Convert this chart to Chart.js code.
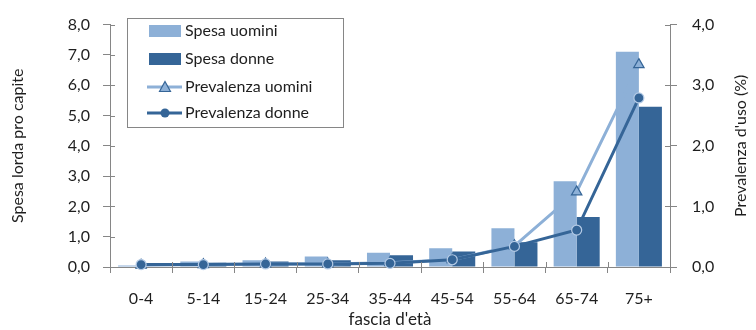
<!DOCTYPE html>
<html>
<head>
<meta charset="utf-8">
<script src="https://cdn.jsdelivr.net/npm/chart.js@4"></script>
<style>
  html, body { margin: 0; padding: 0; background: #fff; }
  #wrap { width: 756px; height: 330px; }
</style>
</head>
<body>
<div id="wrap"><canvas id="myChart" width="756" height="330"></canvas></div>
<script>
var categories = ['0-4', '5-14', '15-24', '25-34', '35-44', '45-54', '55-64', '65-74', '75+'];
var spesaUomini = [0.05, 0.18, 0.22, 0.35, 0.47, 0.62, 1.28, 2.83, 7.10];
var spesaDonne = [0.02, 0.14, 0.18, 0.22, 0.39, 0.51, 0.82, 1.65, 5.29];
var prevUomini = [0.03, 0.04, 0.05, 0.05, 0.07, 0.12, 0.35, 1.24, 3.34];
var prevDonne = [0.04, 0.04, 0.05, 0.05, 0.06, 0.12, 0.34, 0.61, 2.79];
var leftTicks = [0, 1, 2, 3, 4, 5, 6, 7, 8];
var rightTicks = [0, 1, 2, 3, 4];

var light = '#8DB0D7';
var dark = '#356597';
var axisGrey = '#868686';
var textCol = '#1e1e1e';
var fontFam = 'Lato, "Liberation Sans", sans-serif';

function fmt(v) { return Number(v).toFixed(1).replace('.', ','); }

// inner half of the tick marks (Excel style ticks cross the axis)
var crossTicks = {
    id: 'crossTicks',
    afterDraw: function(chart) {
        var c = chart.ctx, a = chart.chartArea;
        c.save();
        c.strokeStyle = axisGrey;
        c.lineWidth = 1;
        c.beginPath();
        var sy = chart.scales.y, sy1 = chart.scales.y1;
        sy.ticks.forEach(function(t) {
            var p = Math.round(sy.getPixelForValue(t.value)) + 0.5;
            c.moveTo(a.left, p); c.lineTo(a.left + 5, p);
        });
        sy1.ticks.forEach(function(t) {
            var p = Math.round(sy1.getPixelForValue(t.value)) + 0.5;
            c.moveTo(a.right, p); c.lineTo(a.right - 5, p);
        });
        var w = (a.right - a.left) / categories.length;
        for (var i = 1; i < categories.length; i++) {
            var x = Math.round(a.left + i * w) + 0.5;
            c.moveTo(x, a.bottom); c.lineTo(x, a.bottom - 5);
        }
        c.stroke();

        // right axis title, reading bottom to top
        c.fillStyle = textCol;
        c.font = '16px ' + fontFam;
        c.textAlign = 'center';
        c.textBaseline = 'middle';
        c.translate(741, (a.top + a.bottom) / 2);
        c.rotate(-Math.PI / 2);
        c.fillText("Prevalenza d'uso (%)", 0, 0);
        c.restore();
    }
};

// legend box drawn inside the plot, like the original
var boxLegend = {
    id: 'boxLegend',
    afterDraw: function(chart) {
        var c = chart.ctx;
        c.save();
        c.fillStyle = '#fff';
        c.fillRect(127.5, 18.5, 216, 109);
        c.strokeStyle = axisGrey;
        c.lineWidth = 1;
        c.strokeRect(127.5, 18.5, 216, 109);

        c.fillStyle = light;
        c.fillRect(149, 25, 32, 12);
        c.fillStyle = dark;
        c.fillRect(149, 53, 32, 12);

        // men line + triangle
        c.strokeStyle = light;
        c.lineWidth = 3;
        c.beginPath(); c.moveTo(147, 87); c.lineTo(182, 87); c.stroke();
        c.fillStyle = light;
        c.strokeStyle = dark;
        c.lineWidth = 1.2;
        c.beginPath(); c.moveTo(165, 81.5); c.lineTo(170.5, 91.5); c.lineTo(159.5, 91.5); c.closePath();
        c.fill(); c.stroke();

        // women line + circle
        c.strokeStyle = dark;
        c.lineWidth = 3;
        c.beginPath(); c.moveTo(147, 113); c.lineTo(182, 113); c.stroke();
        c.fillStyle = dark;
        c.beginPath(); c.arc(165, 113, 4.5, 0, Math.PI * 2); c.fill();

        c.fillStyle = textCol;
        c.font = '16px ' + fontFam;
        c.textBaseline = 'middle';
        c.textAlign = 'left';
        var labels = chart.data.datasets.map(function(d) { return d.label; });
        var ys = [31, 59, 87, 113];
        for (var i = 0; i < labels.length; i++) c.fillText(labels[i], 185, ys[i]);
        c.restore();
    }
};

var ctx = document.getElementById('myChart').getContext('2d');
var chart = new Chart(ctx, {
    type: 'bar',
    data: {
        labels: categories,
        datasets: [{
            label: 'Spesa uomini',
            data: spesaUomini,
            backgroundColor: light,
            yAxisID: 'y',
            order: 3
        }, {
            label: 'Spesa donne',
            data: spesaDonne,
            backgroundColor: dark,
            yAxisID: 'y',
            order: 3
        }, {
            type: 'line',
            label: 'Prevalenza uomini',
            data: prevUomini,
            borderColor: light,
            borderWidth: 3,
            pointStyle: 'triangle',
            pointRadius: 6,
            pointBackgroundColor: light,
            pointBorderColor: dark,
            pointBorderWidth: 1.2,
            yAxisID: 'y1',
            clip: false,
            order: 2
        }, {
            type: 'line',
            label: 'Prevalenza donne',
            data: prevDonne,
            borderColor: dark,
            borderWidth: 3,
            pointStyle: 'circle',
            pointRadius: 5,
            pointBackgroundColor: dark,
            pointBorderColor: '#B5CBE6',
            pointBorderWidth: 1.2,
            yAxisID: 'y1',
            clip: false,
            order: 1
        }]
    },
    options: {
        responsive: false,
        animation: false,
        datasets: { bar: { categoryPercentage: 0.74, barPercentage: 1.0 } },
        layout: { padding: { top: 19, left: 0, right: 0, bottom: 0 } },
        plugins: { legend: { display: false }, tooltip: { enabled: false } },
        scales: {
            x: {
                afterFit: function(s) { s.height = 63; },
                grid: { drawOnChartArea: false, color: axisGrey, tickLength: 6, offset: true },
                border: { color: axisGrey },
                ticks: { color: textCol, font: { family: fontFam, size: 16 }, padding: 16 },
                title: { display: true, text: "fascia d'età", color: textCol,
                         font: { family: fontFam, size: 17 }, padding: { top: 0, bottom: 0 } }
            },
            y: {
                position: 'left',
                min: 0, max: 8,
                afterFit: function(s) { s.width = 110; },
                afterBuildTicks: function(s) { s.ticks = leftTicks.map(function(v) { return { value: v }; }); },
                grid: { drawOnChartArea: false, color: axisGrey, tickLength: 7 },
                border: { color: axisGrey },
                ticks: { color: textCol, font: { family: fontFam, size: 16 }, padding: 13, callback: fmt },
                title: { display: true, text: 'Spesa lorda pro capite', color: textCol,
                         font: { family: fontFam, size: 16 }, padding: { top: 8, bottom: 0 } }
            },
            y1: {
                position: 'right',
                min: 0, max: 4,
                afterFit: function(s) { s.width = 86; },
                afterBuildTicks: function(s) { s.ticks = rightTicks.map(function(v) { return { value: v }; }); },
                grid: { drawOnChartArea: false, color: axisGrey, tickLength: 7 },
                border: { color: axisGrey },
                ticks: { color: textCol, font: { family: fontFam, size: 16 }, padding: 15, callback: fmt },
                title: { display: false }
            }
        }
    },
    plugins: [crossTicks, boxLegend]
});
</script>
</body>
</html>
